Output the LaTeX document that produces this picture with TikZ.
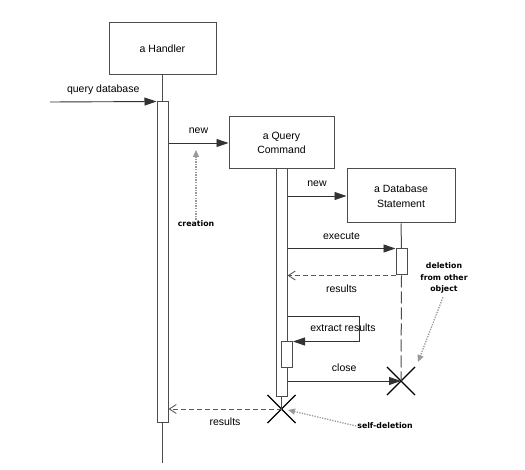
\documentclass[tikz,border=0pt]{standalone}
\usepackage{fontspec}
\setmainfont{Liberation Sans}
\newfontfamily\notefont{DejaVu Sans}
\usetikzlibrary{arrows.meta,shapes.misc,positioning,calc}

\begin{document}
\begin{tikzpicture}[x=1pt,y=-1pt,
  objbox/.style={draw=black!70, line width=1pt, align=center, inner sep=0pt,
    font=\fontsize{10.5}{14.5}\selectfont},
  actbar/.style={draw=black!70, line width=1pt, fill=white, minimum width=11pt, inner sep=0pt},
  lifeline/.style={draw=black!70, line width=1pt},
  msg/.style={draw=black!80, line width=0.9pt, -{Triangle[length=12pt,width=8pt]}},
  reply/.style={draw=black!65, line width=0.9pt, dash pattern=on 5pt off 3pt,
    -{Straight Barb[length=7pt,width=9pt]}},
  msglabel/.style={font=\fontsize{10.5}{12}\selectfont, inner sep=0pt, text height=7.5pt, text depth=2pt},
  note/.style={font=\notefont\bfseries\fontsize{7.8}{11.5}\selectfont, align=center, inner sep=1pt},
  notearrow/.style={draw=black!40, line width=1.3pt, dash pattern=on 1.3pt off 1.3pt,
    -{Triangle[length=7pt,width=6pt]}},
  kill/.style={cross out, draw=black, line width=1.1pt, minimum size=27pt, inner sep=0pt}]
  \useasboundingbox (0,0) rectangle (525,470);

  % objects
  \node[objbox, minimum width=107pt, minimum height=52pt] (handler) at (162.5,49) {a Handler};
  \node[objbox, minimum width=105pt, minimum height=52pt] (qc) at (281.5,143) {a Query\\Command};
  \node[objbox, minimum width=108pt, minimum height=54pt] (db) at (401,196) {a Database\\Statement};

  % activations
  \node[actbar, minimum height=320pt] (hbar) at (162.5,262) {};
  \node[actbar, minimum height=227pt] (qbar) at (281.5,282.5) {};
  \node[actbar, minimum height=26pt] (dbar) at (401.5,262) {};

  % deletions
  \node[kill] (dx) at (401,381) {};
  \node[kill] (qx) at (281.5,409) {};

  % lifelines
  \coordinate (hend) at (162.5,463);
  \draw[lifeline] (handler.south) -- (hbar.north);
  \draw[lifeline] (hbar.south) -- (hend);
  \draw[lifeline] (db.south) -- (dbar.north);
  \draw[lifeline, dash pattern=on 12pt off 4pt] (dbar.south) -- (dx.center);
  \draw[lifeline] (qbar.south) -- (qx.center);

  % messages
  \coordinate (qin) at (50,102);
  \draw[msg] (qin) -- node[msglabel, above=7pt] {query database} (hbar.north west);
  \draw[msg] (hbar.east |- qc.west) -- node[msglabel, above=7pt] {new} (qc.west);
  \draw[msg] (qbar.east |- db.west) -- node[msglabel, above=7pt] {new} (db.west);
  \draw[msg] (qbar.east |- dbar.north west) -- node[msglabel, above=7pt] {execute} (dbar.north west);
  \draw[reply] (dbar.south west) -- node[msglabel, below=9pt] {results} (qbar.east |- dbar.south west);

  \coordinate (selfturn) at (359,316);
  \node[actbar, minimum height=26pt] (sbar) at (287,355) {};
  \draw[msg] (qbar.east |- selfturn) -- (selfturn) |- (sbar.north east);
  \node[msglabel] (extract) at (343,329) {extract results};

  \draw[msg] (qbar.east |- dx) -- node[msglabel, above=7pt] {close} (dx.center);
  \draw[reply] (qx.center) -- node[msglabel, below=9pt] {results} (hbar.east |- qx);

  % notes
  \node[note] (creation) at (196,224) {creation};
  \coordinate (creationtip) at (196,150);
  \draw[notearrow] (creation.north) -- (creationtip);

  \node[note] (delother) at (444,278) {deletion\\from other\\object};
  \coordinate (delothertip) at (418,362);
  \draw[notearrow, shorten <=3pt] (delother.south) -- (delothertip);

  \node[note] (selfdel) at (385,426) {self-deletion};
  \coordinate (selfdeltip) at (288,410);
  \draw[notearrow] (selfdel.west) -- (selfdeltip);
\end{tikzpicture}
\end{document}
